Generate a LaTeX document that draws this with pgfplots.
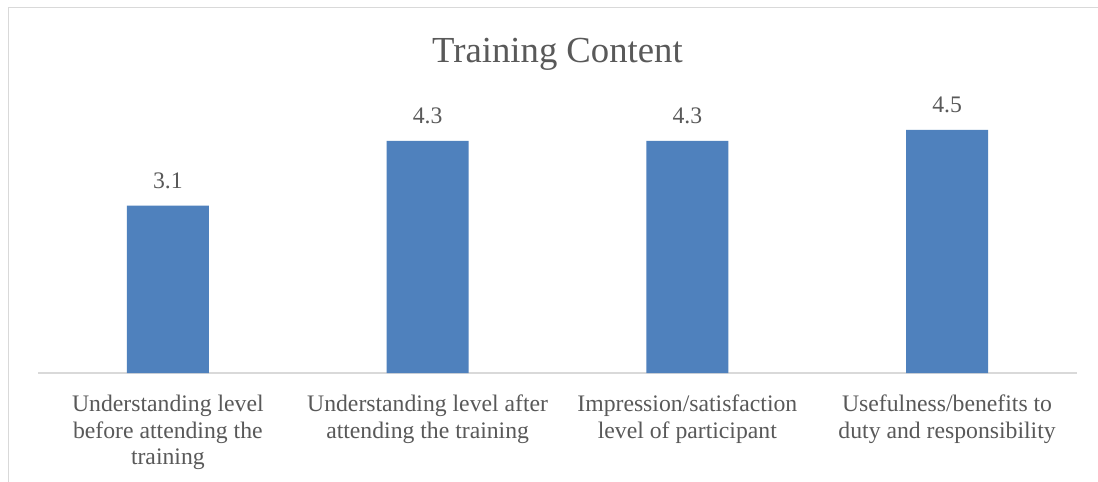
\documentclass[border=0pt]{standalone}
\usepackage{pgfplots}
\pgfplotsset{compat=1.18}
\usepackage{fontspec}
\setmainfont{Liberation Serif}
\definecolor{barblue}{HTML}{4F81BD}
\definecolor{txtgray}{HTML}{595959}
\definecolor{linegray}{HTML}{D9D9D9}
\begin{document}
\begin{tikzpicture}
\useasboundingbox (0,0) rectangle (1098bp,482bp);
\fill[white] (0,0) rectangle (1098bp,482bp);
\draw[linegray, line width=1.5bp] (8.5bp,0) -- (8.5bp,474.5bp) -- (1098bp,474.5bp);
\begin{axis}[
  at={(38bp,109bp)}, anchor=south west,
  scale only axis,
  width=1039bp, height=270bp,
  xmin=-0.5, xmax=3.5, ymin=0, ymax=5,
  axis x line*=bottom,
  hide y axis,
  x axis line style={linegray, line width=1.5bp, -},
  xtick=data,
  major tick length=0pt,
  xticklabels={{Understanding level\\before attending the\\training},
               {Understanding level after\\attending the training},
               {Impression/satisfaction\\level of participant},
               {Usefulness/benefits to\\duty and responsibility}},
  xticklabel style={align=center, anchor=north, inner sep=0pt, yshift=-22bp,
    font=\fontsize{23.7bp}{26.5bp}\selectfont, text=txtgray},
  ybar, bar width=82bp,
  nodes near coords,
  nodes near coords style={font=\fontsize{23.7bp}{26bp}\selectfont, text=txtgray,
    anchor=south, inner sep=0pt, yshift=17bp, /pgf/number format/assume math mode=true,
    /pgf/number format/fixed, /pgf/number format/precision=1, /pgf/number format/fixed zerofill},
  title={Training Content},
  title style={at={(0.5,1)}, anchor=center, yshift=43bp,
    font=\fontsize{36.7bp}{40bp}\selectfont, text=txtgray},
  clip=false,
]
\addplot[fill=barblue, draw=none] coordinates {(0,3.1) (1,4.3) (2,4.3) (3,4.5)};
\end{axis}
\end{tikzpicture}
\end{document}
